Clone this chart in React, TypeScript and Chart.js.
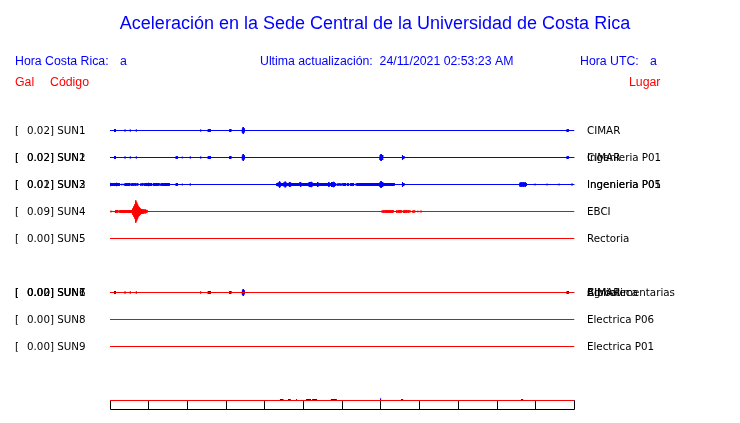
import React, { useEffect, useRef } from "react";
import { Chart, registerables } from "chart.js";
Chart.register(...registerables);

// ---------- texts ----------
const TITLE = "Aceleración en la Sede Central de la Universidad de Costa Rica";
const HEADER_LOCAL_LABEL = "Hora Costa Rica:";
const HEADER_LOCAL_VALUE = "a";
const HEADER_UPDATE = "Ultima actualización:  24/11/2021 02:53:23 AM";
const HEADER_UTC_LABEL = "Hora UTC:";
const HEADER_UTC_VALUE = "a";
const COL_GAL = "Gal";
const COL_CODE = "Código";
const COL_PLACE = "Lugar";

// ---------- stations ----------
const stationCodes = ["SUN1", "SUN2", "SUN3", "SUN4", "SUN5", "SUN6", "SUN7", "SUN8", "SUN9"];
const stationPeaks = ["0.02", "0.02", "0.01", "0.09", "0.00", "0.00", "0.00", "0.00", "0.00"];
const stationPlaces = ["CIMAR", "Ingenieria P01", "Ingenieria P05", "EBCI", "Rectoria", "Agroalimentarias", "Biblioteca", "Electrica P06", "Electrica P01"];

// which station labels are printed on each display row (row index -> station indices)
const rowStations: number[][] = [[0], [0, 1], [1, 2], [3], [4], [], [5, 6, 0], [7], [8]];

// time axis (seconds shown in the window) and its divisions
const TIME_MAX = 600;
const timeDivisions = [0, 50, 100, 150, 200, 250, 300, 350, 400, 450, 500, 550, 600];
const SAMPLE_STEP = 1.2; // seconds between samples inside a burst
const AMP_PER_ROW = 27;  // amplitude units per row spacing

// ---------- traces: bursts of [start time (s), amplitudes...] ----------
type Burst = [number, number[]];

const sun1Bursts: Burst[] = [
  [5.8, [1.5, 1.5]],
  [19.4, [1.0]],
  [26.2, [1.0]],
  [34.0, [1.0]],
  [117.2, [1.0]],
  [127.0, [1.5, 1.5, 1.5]],
  [154.8, [1.5, 1.5]],
  [171.0, [2, 3.5, 2]],
  [590.6, [1.5, 1.5]],
];

const sun2Bursts: Burst[] = [
  [85.6, [1.5, 1.5]],
  [93.4, [0.8]],
  [103.7, [1.0]],
  [349.0, [2.5, 3.5, 2.5, 1.2]],
  [377.8, [2.5, 1.5, 0.8]],
];

const sun3Bursts: Burst[] = [
  [0, [1.5, 1.6, 1.5, 1.2, 1.5, 1.5, 1.4, 1.6, 1.5, 1.3, 1.5]],
  [15.0, [0.7]],
  [17.0, [0.7]],
  [19.5, [1.4, 1.5, 1.5, 1.3, 1.5, 1.4]],
  [27.5, [1.0, 1.2, 0.9, 1.1, 1.2, 1.0, 0.9, 1.1]],
  [39.5, [1.0, 0.8, 1.1, 0.9]],
  [45.0, [1.5, 1.5, 1.4, 1.5, 1.6, 1.5, 1.3, 1.5]],
  [56.0, [1.5, 1.4, 1.5, 1.5, 1.4, 1.3, 1.5]],
  [66.0, [1.4, 1.5, 1.5, 1.3, 1.5, 1.4, 1.5, 1.5, 1.4, 1.2]],
  [215.5, [1.5, 1.6, 1.8, 3.0, 1.8, 1.5, 1.5, 1.6, 1.8, 2.8, 1.8, 1.5, 1.5, 1.6, 2.5, 1.6, 1.5, 1.5, 1.4, 1.5, 1.5, 1.4, 1.5, 1.5, 1.4, 2.5, 1.5, 1.5, 1.4, 1.5, 1.5, 1.4, 1.3, 1.5, 1.5, 2.5, 2.0, 2.6, 1.8, 1.5, 1.5, 1.5, 1.4, 1.5, 2.3, 1.4, 1.5, 1.3, 1.5, 1.4, 1.5, 1.5, 1.4, 1.5, 1.3, 1.5, 2.2, 1.5, 1.4, 2.5, 2.0, 2.6, 2.0, 1.5]],
  [293.5, [1.0, 0.8, 1.0, 0.9, 1.0, 0.8, 1.0]],
  [302.0, [1.5, 1.4, 1.5]],
  [307.0, [1.4, 1.5]],
  [311.0, [1.5, 1.3, 1.5, 1.4]],
  [318.0, [1.2]],
  [319.5, [1.5, 1.4, 1.5, 1.5, 1.3, 1.5, 1.4, 1.5, 1.5, 1.4, 1.5, 1.5, 1.4, 1.5, 1.3, 1.5, 1.5, 1.4, 1.5, 1.5, 1.4, 1.5, 1.5, 1.4, 1.5, 1.3, 1.5, 1.4, 1.5, 1.5, 1.4, 1.5, 1.3, 1.5, 1.4, 1.5, 1.5, 1.4, 1.3, 1.2, 1.0]],
  [529.5, [1.8, 2, 2, 1.8, 2, 1.8, 2, 1.5]],
  [549.0, [0.8]],
  [564.5, [0.8]],
  [580.0, [0.8]],
  [596.8, [1.0]],
];

const sun4Bursts: Burst[] = [
  [1.3, [0.8]],
  [6.5, [1.5, 1.5, 1.5, 1.3]],
  [12.2, [1.0, 1.2, 1.0, 1.3, 1.2, 1.5, 1.4, 1.5, 1.3, 1.2, 1.4, 1.3, 1.2, 1.5]],
  [28.5, [2, 3, 5, 7, 11, 9, 7, 5, 4, 3, 2.5, 2, 2, 1.8, 2, 1.5, 1.5]],
  [351.5, [1, 1.2, 1, 1.1, 1, 1.2, 1, 1.1, 1, 1.1, 1, 1.2, 1]],
  [369.5, [1, 1.1, 1, 1.2, 1, 1.1, 1]],
  [379.0, [1, 1.2, 1, 1.1, 1, 1.2, 1, 1]],
  [391.5, [1.2, 1, 1.1]],
  [397.8, [0.8]],
  [401.7, [1]],
];

const flatBursts: Burst[] = [];

const timeRowBursts: Burst[] = [
  [219.6, [1.5, 1, 1.5, 1.2]],
  [230.0, [1.5, 1.2, 1.5]],
  [241.0, [1.2]],
  [254.0, [1.5, 1.5, 1.2, 1.5, 1.5]],
  [262.0, [1.5, 1.2, 1.5, 1.5, 1.2]],
  [286.0, [1.5, 1.5, 1.2, 1.5, 1.5, 1.2]],
  [348.8, [2, 1.5]],
  [376.8, [1.5, 1]],
  [531.8, [1.5, 1]],
];

const BLUE = "#0000ff";
const RED = "#ff0000";
const TIME_ROW = 10;

// display rows (row index, data, colour, one-sided)
const traces: { row: number; bursts: Burst[]; color: string; upOnly?: boolean }[] = [
  { row: 0, bursts: sun1Bursts, color: BLUE },
  { row: 1, bursts: sun1Bursts, color: BLUE },
  { row: 1, bursts: sun2Bursts, color: BLUE },
  { row: 2, bursts: sun2Bursts, color: BLUE },
  { row: 2, bursts: sun3Bursts, color: BLUE },
  { row: 3, bursts: sun4Bursts, color: RED },
  { row: 4, bursts: flatBursts, color: RED },
  { row: 6, bursts: sun1Bursts, color: BLUE },
  { row: 6, bursts: flatBursts, color: RED },
  { row: 7, bursts: flatBursts, color: RED },
  { row: 8, bursts: flatBursts, color: RED },
  { row: TIME_ROW, bursts: timeRowBursts, color: BLUE, upOnly: true },
  { row: TIME_ROW, bursts: flatBursts, color: RED },
];

function buildPoints(bursts: Burst[], row: number, upOnly?: boolean) {
  const base = -row;
  const pts: { x: number; y: number }[] = [{ x: 0, y: base }];
  for (const [t0, amps] of bursts) {
    pts.push({ x: t0, y: base });
    amps.forEach((a, i) => {
      const t = t0 + i * SAMPLE_STEP;
      pts.push({ x: t, y: base + a / AMP_PER_ROW });
      pts.push({ x: t, y: upOnly ? base : base - a / AMP_PER_ROW });
    });
    pts.push({ x: t0 + (amps.length - 1) * SAMPLE_STEP, y: base });
  }
  pts.push({ x: TIME_MAX, y: base });
  return pts;
}

const textPlugin = {
  id: "seismoText",
  beforeDatasetsDraw(chart: any) {
    const { ctx } = chart;
    const xs = chart.scales.x;
    const ys = chart.scales.y;
    const top = Math.floor(ys.getPixelForValue(-TIME_ROW)) + 0.5;
    const bottom = top + 9;
    ctx.save();
    ctx.strokeStyle = "#000";
    ctx.lineWidth = 1;
    ctx.beginPath();
    ctx.moveTo(Math.floor(xs.getPixelForValue(0)) + 0.5, top);
    ctx.lineTo(Math.floor(xs.getPixelForValue(TIME_MAX)) + 0.5, top);
    ctx.moveTo(Math.floor(xs.getPixelForValue(0)) + 0.5, bottom);
    ctx.lineTo(Math.floor(xs.getPixelForValue(TIME_MAX)) + 0.5, bottom);
    for (const d of timeDivisions) {
      const px = Math.floor(xs.getPixelForValue(d)) + 0.5;
      ctx.moveTo(px, top);
      ctx.lineTo(px, bottom);
    }
    ctx.stroke();
    ctx.restore();
  },
  afterDraw(chart: any) {
    const { ctx } = chart;
    const ys = chart.scales.y;
    ctx.save();
    ctx.textBaseline = "alphabetic";
    // title
    ctx.fillStyle = BLUE;
    ctx.font = "18px 'Liberation Sans', Arial, sans-serif";
    ctx.textAlign = "center";
    ctx.fillText(TITLE, 375, 29);
    // header
    ctx.textAlign = "left";
    ctx.font = "12.3px 'Liberation Sans', Arial, sans-serif";
    ctx.fillText(HEADER_LOCAL_LABEL, 15, 65);
    ctx.fillText(HEADER_LOCAL_VALUE, 120, 65);
    ctx.fillText(HEADER_UPDATE, 260, 65);
    ctx.fillText(HEADER_UTC_LABEL, 580, 65);
    ctx.fillText(HEADER_UTC_VALUE, 650, 65);
    ctx.fillStyle = RED;
    ctx.fillText(COL_GAL, 15, 85.5);
    ctx.fillText(COL_CODE, 50, 85.5);
    ctx.fillText(COL_PLACE, 629, 85.5);
    // row labels
    ctx.fillStyle = "#000";
    ctx.font = "10.3px 'DejaVu Sans', sans-serif";
    rowStations.forEach((list, row) => {
      const y = ys.getPixelForValue(-row) + 3.8;
      for (const s of list) {
        ctx.fillText("[", 15, y);
        ctx.fillText(`${stationPeaks[s]}] ${stationCodes[s]}`, 27, y);
        ctx.fillText(stationPlaces[s], 587, y);
      }
    });
    ctx.restore();
  },
};

export default function App() {
  const ref = useRef<HTMLCanvasElement | null>(null);
  useEffect(() => {
    if (!ref.current) return;
    const chart = new Chart(ref.current, {
      type: "line",
      data: {
        datasets: traces.map((tr) => ({
          data: buildPoints(tr.bursts, tr.row, tr.upOnly),
          borderColor: tr.color,
          backgroundColor: tr.color,
          borderWidth: 1,
          pointRadius: 0,
          tension: 0,
          fill: false,
          order: tr.color === RED ? 0 : 1,
        })),
      },
      options: {
        animation: false,
        responsive: false,
        devicePixelRatio: 1,
        events: [],
        layout: { padding: { left: 110, right: 165.5, top: 117, bottom: 9 } },
        scales: {
          x: { type: "linear", min: 0, max: TIME_MAX, display: false },
          y: { type: "linear", min: -10.5, max: 0.5, display: false },
        },
        plugins: { legend: { display: false }, title: { display: false }, tooltip: { enabled: false } },
      },
      plugins: [textPlugin],
    });
    return () => chart.destroy();
  }, []);
  return (
    <div style={{ position: "absolute", left: 0, top: 0, width: 740, height: 423, background: "#fff" }}>
      <canvas ref={ref} width={740} height={423} style={{ display: "block" }} />
    </div>
  );
}
